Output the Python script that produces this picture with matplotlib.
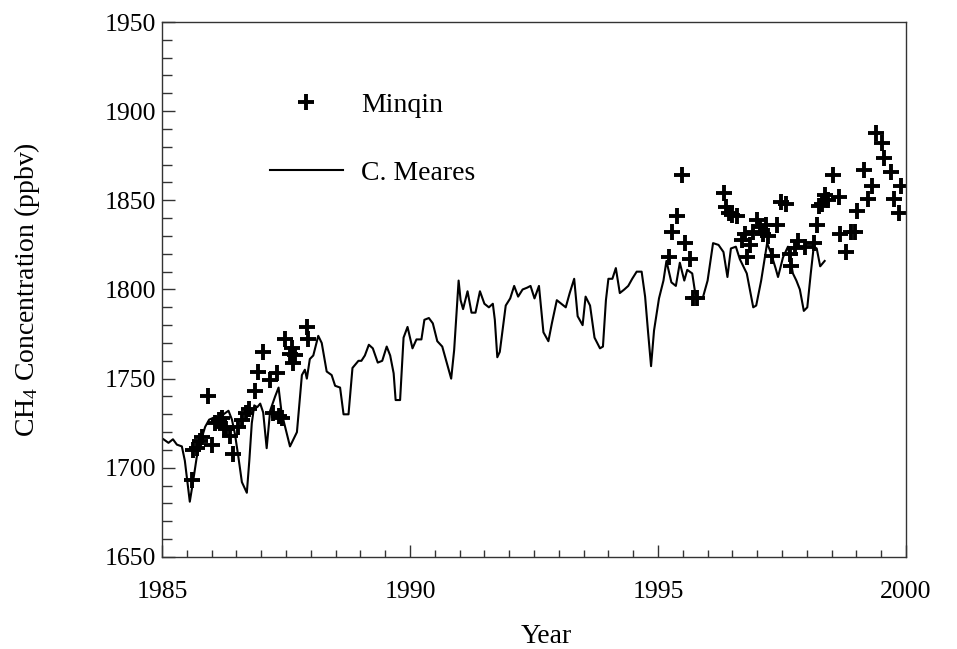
import matplotlib
matplotlib.use("Agg")
import matplotlib.pyplot as plt
from matplotlib.ticker import MultipleLocator

plt.rcParams['font.family'] = ['Liberation Serif', 'DejaVu Serif']
plt.rcParams['mathtext.fontset'] = 'custom'
plt.rcParams['mathtext.rm'] = 'Liberation Serif'
plt.rcParams['mathtext.it'] = 'Liberation Serif:italic'

# C. Meares record (year, ppbv)
meares_year = [1985.03, 1985.13, 1985.22, 1985.30, 1985.40, 1985.46, 1985.56, 1985.63, 1985.70, 1985.77,
               1985.87, 1985.95, 1986.03, 1986.14, 1986.24, 1986.34, 1986.41, 1986.47, 1986.54, 1986.61,
               1986.71, 1986.76, 1986.81, 1986.86, 1986.92, 1986.98, 1987.04, 1987.11, 1987.18, 1987.28,
               1987.35, 1987.41, 1987.58, 1987.72, 1987.82, 1987.88, 1987.92, 1987.98, 1988.05, 1988.15,
               1988.22, 1988.32, 1988.42, 1988.49, 1988.59, 1988.66, 1988.76, 1988.84, 1988.96, 1989.02,
               1989.09, 1989.17, 1989.25, 1989.35, 1989.44, 1989.53, 1989.60, 1989.67, 1989.71, 1989.80,
               1989.87, 1989.95, 1990.05, 1990.13, 1990.23, 1990.29, 1990.38, 1990.46, 1990.55, 1990.65,
               1990.74, 1990.83, 1990.89, 1990.93, 1990.98, 1991.02, 1991.07, 1991.16, 1991.24, 1991.32,
               1991.41, 1991.50, 1991.59, 1991.67, 1991.71, 1991.76, 1991.81, 1991.93, 1992.02, 1992.10,
               1992.18, 1992.27, 1992.36, 1992.43, 1992.51, 1992.60, 1992.69, 1992.79, 1992.86, 1992.96,
               1993.05, 1993.14, 1993.22, 1993.31, 1993.38, 1993.48, 1993.54, 1993.63, 1993.72, 1993.83,
               1993.89, 1993.95, 1994.00, 1994.08, 1994.15, 1994.23, 1994.32, 1994.40, 1994.48, 1994.57,
               1994.67, 1994.74, 1994.80, 1994.86, 1994.92, 1995.02, 1995.11, 1995.17, 1995.27, 1995.36,
               1995.44, 1995.53, 1995.59, 1995.69, 1995.75, 1995.80, 1995.90, 1996.00, 1996.11, 1996.22,
               1996.32, 1996.40, 1996.47, 1996.57, 1996.65, 1996.79, 1996.92, 1996.98, 1997.08, 1997.20,
               1997.27, 1997.37, 1997.42, 1997.52, 1997.62, 1997.72, 1997.79, 1997.86, 1997.94, 1998.01,
               1998.08, 1998.14, 1998.20, 1998.27, 1998.36]
meares_ch4 = [1716, 1714, 1716, 1713, 1712, 1704, 1681, 1693, 1706, 1714,
              1723, 1727, 1728, 1726, 1730, 1732, 1727, 1719, 1706, 1692,
              1686, 1704, 1725, 1735, 1734, 1736, 1731, 1711, 1732, 1740,
              1745, 1731, 1712, 1720, 1752, 1755, 1750, 1761, 1763, 1774,
              1770, 1754, 1752, 1746, 1745, 1730, 1730, 1756, 1760, 1760,
              1763, 1769, 1767, 1759, 1760, 1768, 1763, 1753, 1738, 1738,
              1773, 1779, 1767, 1772, 1772, 1783, 1784, 1781, 1771, 1768,
              1759, 1750, 1766, 1783, 1805, 1794, 1789, 1799, 1787, 1787,
              1799, 1792, 1790, 1792, 1783, 1762, 1765, 1791, 1795, 1802,
              1796, 1800, 1801, 1802, 1795, 1802, 1776, 1771, 1781, 1794,
              1792, 1790, 1798, 1806, 1785, 1780, 1796, 1791, 1773, 1767,
              1768, 1794, 1806, 1806, 1812, 1798, 1800, 1802, 1806, 1810,
              1810, 1796, 1776, 1757, 1777, 1795, 1805, 1816, 1804, 1802,
              1815, 1805, 1811, 1809, 1798, 1795, 1795, 1805, 1826, 1825,
              1821, 1807, 1823, 1824, 1817, 1809, 1790, 1791, 1805, 1826,
              1821, 1812, 1807, 1818, 1824, 1809, 1805, 1800, 1788, 1790,
              1809, 1824, 1823, 1813, 1816]

# Minqin observations (year, ppbv)
minqin_year = [1985.60, 1985.63, 1985.71, 1985.77, 1985.81, 1985.93, 1986.00, 1986.07, 1986.14, 1986.20,
               1986.24, 1986.30, 1986.37, 1986.44, 1986.54, 1986.61, 1986.69, 1986.75, 1986.88, 1986.94,
               1987.04, 1987.18, 1987.24, 1987.31, 1987.35, 1987.41, 1987.48, 1987.58, 1987.62, 1987.65,
               1987.68, 1987.92, 1987.95,
               1995.23, 1995.28, 1995.38, 1995.48, 1995.54, 1995.65, 1995.71, 1995.78, 1996.33, 1996.38,
               1996.44, 1996.50, 1996.60, 1996.69, 1996.75, 1996.80, 1996.86, 1996.92, 1997.00, 1997.06,
               1997.12, 1997.18, 1997.22, 1997.29, 1997.39, 1997.47, 1997.59, 1997.66, 1997.69, 1997.76,
               1997.83, 1997.97, 1998.15, 1998.20, 1998.25, 1998.30, 1998.37, 1998.43, 1998.53, 1998.64,
               1998.67, 1998.80, 1998.90, 1998.97, 1999.02, 1999.15, 1999.24, 1999.32, 1999.39, 1999.52,
               1999.55, 1999.70, 1999.75, 1999.85, 1999.90]
minqin_ch4 = [1693, 1710, 1711, 1715, 1717, 1740, 1713, 1725, 1727, 1728,
              1723, 1722, 1718, 1708, 1723, 1727, 1731, 1733, 1743, 1754,
              1765, 1749, 1731, 1753, 1729, 1728, 1772, 1764, 1767, 1759,
              1763, 1779, 1772,
              1818, 1832, 1841, 1864, 1826, 1817, 1795, 1795, 1854, 1846,
              1843, 1842, 1841, 1828, 1831, 1818, 1825, 1832, 1839, 1835,
              1831, 1836, 1830, 1819, 1836, 1849, 1848, 1820, 1813, 1823,
              1827, 1824, 1826, 1836, 1847, 1848, 1853, 1850, 1864, 1852,
              1831, 1821, 1832, 1832, 1844, 1867, 1851, 1858, 1888, 1882,
              1874, 1866, 1851, 1843, 1858]

x_ticks = [1985, 1990, 1995, 2000]
y_ticks = [1650, 1700, 1750, 1800, 1850, 1900, 1950]

fig = plt.figure(figsize=(9.57, 6.49), dpi=100)
ax = fig.add_axes([0.1693, 0.1418, 0.7774, 0.8243])

ax.plot(minqin_year, minqin_ch4, linestyle='none', marker='+', markersize=11,
        markeredgewidth=2.8, color='black', label='Minqin')
ax.plot(meares_year, meares_ch4, color='black', linewidth=1.5, label='C. Meares')

ax.set_xlim(1985, 2000)
ax.set_ylim(1650, 1950)
ax.set_xticks(x_ticks)
ax.set_yticks(y_ticks)
ax.xaxis.set_minor_locator(MultipleLocator(0.5))
ax.yaxis.set_minor_locator(MultipleLocator(10))
ax.tick_params(axis='both', which='both', direction='in', top=False, right=False,
               labelsize=18.5, color='#333333')
ax.tick_params(axis='x', which='major', length=9, width=1, pad=17)
ax.tick_params(axis='x', which='minor', length=5, width=1)
ax.tick_params(axis='y', which='major', length=9, width=1, pad=4)
ax.tick_params(axis='y', which='minor', length=7, width=1)
for s in ax.spines.values():
    s.set_linewidth(1.0)
    s.set_color('#333333')

ax.set_xlabel('Year', fontsize=20)
ax.set_ylabel(r'CH$_4$ Concentration (ppbv)', fontsize=20)
ax.xaxis.set_label_coords(0.517, -0.125)
ax.yaxis.set_label_coords(-0.161, 0.5)

ax.legend(loc='upper left', bbox_to_anchor=(0.145, 0.868), frameon=False,
          borderaxespad=0, borderpad=0, handlelength=2.63, handletextpad=0.65,
          labelspacing=1.53, numpoints=1, fontsize=20)

fig.savefig('out.png', dpi=100)
